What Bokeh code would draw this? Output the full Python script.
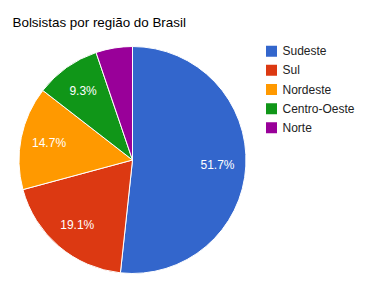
import math
from bokeh.plotting import figure
from bokeh.models import Range1d, ColumnDataSource
from bokeh.core.properties import value
from bokeh.embed import file_html
from bokeh.resources import INLINE

title = "Bolsistas por região do Brasil"
regions = ["Sudeste", "Sul", "Nordeste", "Centro-Oeste", "Norte"]
shares = [51.7, 19.1, 14.7, 9.3, 5.2]
colors = ["#3366cc", "#dc3912", "#ff9900", "#109618", "#990099"]

W, H = 368, 289
cx, cy, R = 132, H - 159.5, 113.5

total = sum(shares)
starts, ends, lx, ly, labels = [], [], [], [], []
cum = 0.0
for s in shares:
    f0 = cum / total
    f1 = (cum + s) / total
    starts.append(math.pi / 2 - f1 * 2 * math.pi)
    ends.append(math.pi / 2 - f0 * 2 * math.pi)
    mid = math.pi / 2 - (f0 + f1) * math.pi
    if s / total >= 0.07:
        lx.append(cx + 0.75 * R * math.cos(mid))
        ly.append(cy + 0.75 * R * math.sin(mid))
        labels.append(f"{s:.1f}%")
    cum += s

p = figure(width=W, height=H, output_backend="svg", toolbar_location=None,
           x_range=Range1d(0, W), y_range=Range1d(0, H), min_border=0)
p.axis.visible = False
p.grid.visible = False
p.outline_line_color = None
p.background_fill_color = "white"
p.border_fill_color = "white"

src = ColumnDataSource(dict(start=starts, end=ends, color=colors))
p.wedge(x=cx, y=cy, radius=R, start_angle="start", end_angle="end",
        fill_color="color", line_color="white", line_width=1, source=src)

p.text(x=lx, y=ly, text=labels, text_color="white", text_font=value("Liberation Sans"),
       text_font_size="12px", text_align="center", text_baseline="middle")

p.text(x=[12], y=[H - 22], text=[title], text_color="#000000",
       text_font=value("Liberation Sans"), text_font_size="13.4px",
       text_align="left", text_baseline="alphabetic")

leg_y = [H - (50.7 + i * 19.15) for i in range(len(regions))]
p.rect(x=[271] * len(regions), y=leg_y, width=11, height=11, fill_color=colors, line_color=None)
p.text(x=[282] * len(regions), y=leg_y, text=regions, text_color="#222222",
       text_font=value("Liberation Sans"), text_font_size="12px",
       text_align="left", text_baseline="middle")

open("out.html", "w").write(file_html(p, INLINE))
